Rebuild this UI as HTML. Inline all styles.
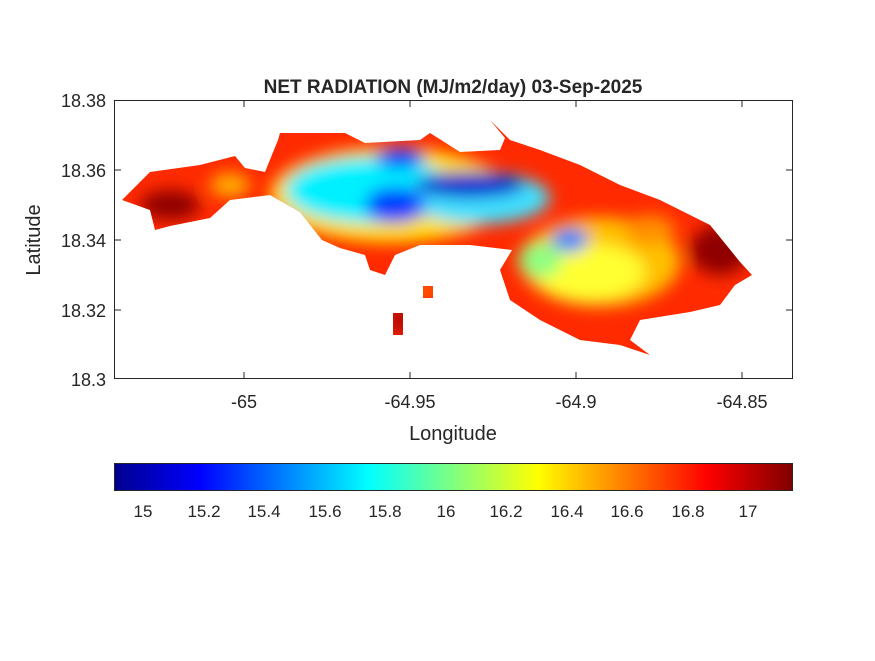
<!DOCTYPE html>
<html><head><meta charset="utf-8"><style>
body{margin:0;background:#fff;}
svg text{font-family:"Liberation Sans",sans-serif;fill:#262626;}
</style></head><body>
<svg width="875" height="656" xmlns="http://www.w3.org/2000/svg">
<defs>
<linearGradient id="jet" x1="0" x2="1" y1="0" y2="0">
<stop offset="0" stop-color="#00008f"/>
<stop offset="0.125" stop-color="#0000ff"/>
<stop offset="0.375" stop-color="#00ffff"/>
<stop offset="0.625" stop-color="#ffff00"/>
<stop offset="0.875" stop-color="#ff0000"/>
<stop offset="1" stop-color="#800000"/>
</linearGradient>
<clipPath id="isl">
<path d="M122,200 L150,172 L200,165 L235,156 L245,168 L265,172 L278,140 L280,133 L345,133 L365,143 L420,140 L430,133 L460,152 L500,150 L505,138 L490,120 L510,140 L540,150 L580,165 L620,185 L660,200 L710,225 L740,262 L752,275 L735,285 L720,305 L690,312 L640,320 L630,340 L650,355 L620,345 L580,340 L540,320 L510,300 L500,270 L512,250 L470,245 L420,245 L395,255 L385,275 L370,270 L365,255 L340,248 L322,240 L300,212 L270,195 L230,200 L210,218 L170,226 L155,230 L150,210 Z"/>
<rect x="393" y="313" width="10" height="22"/>
<rect x="423" y="286" width="10" height="12"/>
</clipPath>
<filter id="bl"><feGaussianBlur stdDeviation="8"/></filter>
</defs>
<g clip-path="url(#isl)">
<rect x="110" y="110" width="660" height="260" fill="#ff2a00"/>
<g filter="url(#bl)">
<ellipse cx="170" cy="205" rx="30" ry="15" fill="#900000"/>
<ellipse cx="400" cy="320" rx="10" ry="15" fill="#a00000"/>
<ellipse cx="720" cy="250" rx="30" ry="25" fill="#900000"/>
<ellipse cx="230" cy="185" rx="20" ry="12" fill="#ffb000"/>
<ellipse cx="390" cy="195" rx="120" ry="48" fill="#ffe000"/>
<ellipse cx="370" cy="190" rx="85" ry="33" fill="#00f0ff"/>
<ellipse cx="480" cy="198" rx="70" ry="26" fill="#40e0ff"/>
<ellipse cx="395" cy="205" rx="30" ry="18" fill="#0040ff"/>
<ellipse cx="470" cy="185" rx="55" ry="13" fill="#0020d0"/>
<ellipse cx="400" cy="158" rx="25" ry="10" fill="#0030ff"/>
<ellipse cx="600" cy="262" rx="80" ry="45" fill="#ffc000"/>
<ellipse cx="590" cy="272" rx="55" ry="28" fill="#ffff30"/>
<ellipse cx="570" cy="240" rx="18" ry="12" fill="#2080ff"/>
<ellipse cx="540" cy="260" rx="22" ry="18" fill="#90ff80"/>
<ellipse cx="650" cy="230" rx="25" ry="15" fill="#ff9000"/>
<ellipse cx="425" cy="290" rx="8" ry="6" fill="#ffa000"/>
</g>
</g>
<rect x="114.5" y="100.5" width="678" height="278" fill="none" stroke="#262626" stroke-width="1"/>
<g stroke="#262626">
<line x1="244" y1="378" x2="244" y2="372"/><line x1="410" y1="378" x2="410" y2="372"/><line x1="576" y1="378" x2="576" y2="372"/><line x1="742" y1="378" x2="742" y2="372"/>
<line x1="244" y1="101" x2="244" y2="107"/><line x1="410" y1="101" x2="410" y2="107"/><line x1="576" y1="101" x2="576" y2="107"/><line x1="742" y1="101" x2="742" y2="107"/>
<line x1="115" y1="170" x2="121" y2="170"/><line x1="115" y1="240" x2="121" y2="240"/><line x1="115" y1="310" x2="121" y2="310"/>
<line x1="792" y1="170" x2="786" y2="170"/><line x1="792" y1="240" x2="786" y2="240"/><line x1="792" y1="310" x2="786" y2="310"/>
</g>
<g font-size="18" text-anchor="middle">
<text x="244" y="408">-65</text><text x="410" y="408">-64.95</text><text x="576" y="408">-64.9</text><text x="742" y="408">-64.85</text>
</g>
<g font-size="18" text-anchor="end">
<text x="106" y="107">18.38</text><text x="106" y="177">18.36</text><text x="106" y="247">18.34</text><text x="106" y="317">18.32</text><text x="106" y="386">18.3</text>
</g>
<text x="453" y="440" font-size="20" text-anchor="middle">Longitude</text>
<text transform="translate(40,240) rotate(-90)" font-size="20" text-anchor="middle">Latitude</text>
<text x="453" y="93" font-size="19" font-weight="bold" text-anchor="middle" fill="#000">NET RADIATION (MJ/m2/day) 03-Sep-2025</text>
<rect x="114.5" y="463.5" width="678" height="27" fill="url(#jet)" stroke="#262626"/>
<g font-size="17" text-anchor="middle">
<text x="143" y="517">15</text><text x="204" y="517">15.2</text><text x="264" y="517">15.4</text><text x="325" y="517">15.6</text><text x="385" y="517">15.8</text><text x="446" y="517">16</text><text x="506" y="517">16.2</text><text x="567" y="517">16.4</text><text x="627" y="517">16.6</text><text x="688" y="517">16.8</text><text x="748" y="517">17</text>
</g>
</svg>
</body></html>
